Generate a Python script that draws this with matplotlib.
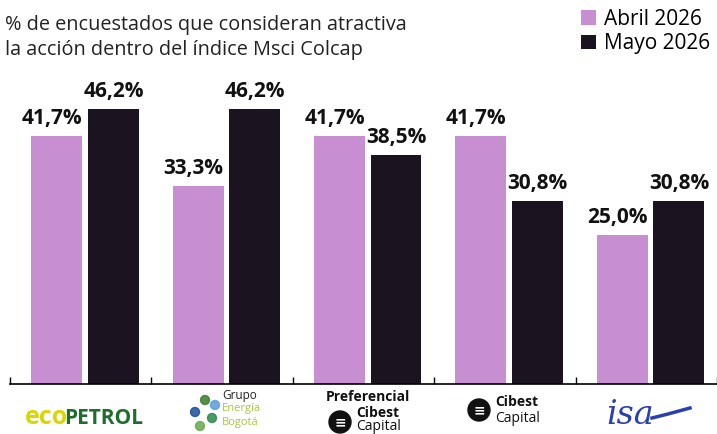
import matplotlib.pyplot as plt
from matplotlib.patches import Ellipse
import numpy as np

plt.rcParams['font.family'] = ['Open Sans', 'DejaVu Sans']

# datos del grafico
acciones = ['Ecopetrol', 'Grupo Energía Bogotá', 'Preferencial Cibest Capital', 'Cibest Capital', 'ISA']
abril = [41.7, 33.3, 41.7, 41.7, 25.0]
mayo = [46.2, 46.2, 38.5, 30.8, 30.8]
series = ['Abril 2026', 'Mayo 2026']

purple = '#c88ed2'
dark = '#1b1320'

W, H = 717, 434
fig = plt.figure(figsize=(W / 100, H / 100), dpi=100)
fig.patch.set_facecolor('white')
ax = fig.add_axes([10 / W, (H - 384) / H, 707 / W, 357 / H])

x = np.arange(len(acciones))
w = 0.36
b1 = ax.bar(x - 0.17, abril, w, color=purple, label=series[0])
b2 = ax.bar(x + 0.23, mayo, w, color=dark, label=series[1])

for i in range(len(acciones)):
    ax.annotate(f"{abril[i]:.1f}%".replace('.', ','), (x[i] + 0.01, abril[i]),
                xytext=(0, 5), textcoords='offset points', ha='right', va='bottom',
                fontsize=15, fontweight='bold', color='#111111')
    ax.annotate(f"{mayo[i]:.1f}%".replace('.', ','), (x[i] + 0.02, mayo[i]),
                xytext=(0, 5), textcoords='offset points', ha='left', va='bottom',
                fontsize=15, fontweight='bold', color='#111111')

ax.set_xlim(-0.5, 4.5)
ax.set_ylim(0, 60)
for s in ['top', 'right', 'left']:
    ax.spines[s].set_visible(False)
ax.spines['bottom'].set_linewidth(1.2)
ax.set_yticks([])
ax.set_xticks(np.arange(-0.5, 4.6, 1))
ax.set_xticklabels([])
ax.tick_params(axis='x', direction='in', length=5, width=1)


def px(xp, yp):
    return xp / W, 1 - yp / H


# titulo
fig.text(*px(5, 30), "% de encuestados que consideran atractiva", ha='left', va='baseline',
         fontsize=14.3, color='#222222')
fig.text(*px(5, 55), "la acción dentro del índice Msci Colcap", ha='left', va='baseline',
         fontsize=14.3, color='#222222')

fig.legend(handles=[b1, b2], labels=series, loc='upper left',
           bbox_to_anchor=(581 / W, 1 - 9 / H), frameon=False, fontsize=15,
           handlelength=0.7, handleheight=0.7, handletextpad=0.4, labelspacing=0.15,
           borderpad=0, borderaxespad=0)

# logotipos (aproximados con texto)
fig.text(*px(25, 424), "eco", fontsize=18, fontweight='bold', color='#d8d800', va='baseline')
fig.text(*px(64, 424), "PETROL", fontsize=15, fontweight='bold', color='#1f6d2c', va='baseline')

fig.text(*px(222, 395), "Grupo", fontsize=8.5, color='#222222', va='center')
fig.text(*px(222, 409), "Energía", fontsize=8, color='#a9c640', va='center')
fig.text(*px(222, 422), "Bogotá", fontsize=8, color='#a9c640', va='center')
for (cx, cy, cc) in [(205, 400, '#3a7d2c'), (195, 412, '#1c4f9a'), (212, 418, '#2c8a4a'),
                     (200, 426, '#6aa84f'), (215, 405, '#5b9bd5')]:
    fig.patches.append(Ellipse(px(cx, cy), 9 / W, 9 / H, transform=fig.transFigure,
                               color=cc, alpha=0.85))

fig.text(*px(326, 397), "Preferencial", fontsize=10, fontweight='bold', color='#111111',
         va='center')
fig.patches.append(Ellipse(px(340, 422), 22 / W, 22 / H, transform=fig.transFigure, color='#111111'))
fig.text(*px(340, 422), "≡", fontsize=10, color='white', ha='center', va='center', fontweight='bold')
fig.text(*px(356, 413), "Cibest", fontsize=10, fontweight='bold', color='#111111', va='center')
fig.text(*px(356, 426), "Capital", fontsize=10, color='#111111', va='center')

fig.patches.append(Ellipse(px(479, 410), 22 / W, 22 / H, transform=fig.transFigure, color='#111111'))
fig.text(*px(479, 410), "≡", fontsize=10, color='white', ha='center', va='center', fontweight='bold')
fig.text(*px(495, 402), "Cibest", fontsize=10, fontweight='bold', color='#111111', va='center')
fig.text(*px(495, 418), "Capital", fontsize=10, color='#111111', va='center')

fig.text(*px(606, 424), "isa", fontsize=24, style='italic', color='#2a3fb0', va='baseline',
         family='DejaVu Serif')
fig.lines.append(plt.Line2D([652 / W, 668 / W, 690 / W], [1 - 418 / H, 1 - 414 / H, 1 - 408 / H],
                            transform=fig.transFigure, color='#2a3fb0', lw=2.5))

fig.savefig('out.png', dpi=100)
